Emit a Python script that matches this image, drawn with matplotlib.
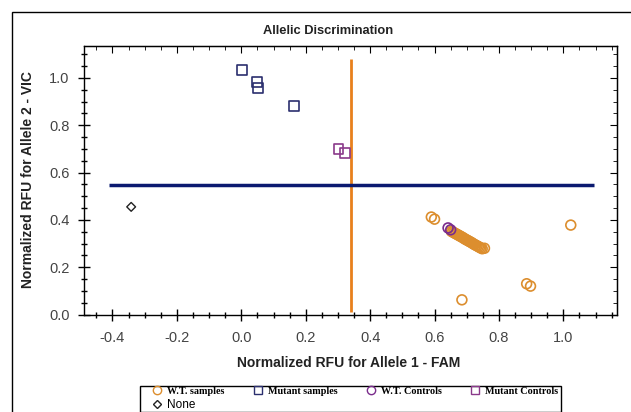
#!/usr/bin/env python3
import matplotlib
matplotlib.use('Agg')
import matplotlib.pyplot as plt
from matplotlib.lines import Line2D
from matplotlib.patches import Rectangle
from matplotlib.ticker import MultipleLocator

# W.T. samples (isolated points + the dense diagonal cluster)
wt_samples_x = [0.590, 0.600, 1.023, 0.685, 0.886, 0.898, 0.755,
                0.652, 0.656, 0.660, 0.664, 0.668, 0.672, 0.676, 0.680, 0.684,
                0.688, 0.692, 0.696, 0.700, 0.704, 0.708, 0.712, 0.716, 0.720,
                0.724, 0.728, 0.732, 0.736, 0.740, 0.744, 0.748]
wt_samples_y = [0.412, 0.403, 0.378, 0.062, 0.130, 0.120, 0.280,
                0.352, 0.349, 0.346, 0.343, 0.340, 0.337, 0.334, 0.331, 0.328,
                0.325, 0.321, 0.318, 0.315, 0.312, 0.309, 0.306, 0.303, 0.299,
                0.296, 0.293, 0.290, 0.287, 0.284, 0.281, 0.278]

mut_samples_x = [0.002, 0.048, 0.052, 0.164]
mut_samples_y = [1.033, 0.983, 0.958, 0.882]

wt_controls_x = [0.642, 0.650]
wt_controls_y = [0.366, 0.358]

mut_controls_x = [0.302, 0.323]
mut_controls_y = [0.698, 0.683]

none_x = [-0.342]
none_y = [0.455]

# call thresholds
fam_cut = 0.341
fam_cut_span = [0.01, 1.078]
vic_cut = 0.547
vic_cut_span = [-0.41, 1.095]

c_wt = '#DC8E2E'
c_mut = '#2B2F6E'
c_wtc = '#7A2C8C'
c_mutc = '#8A3A8A'
c_none = '#222222'

fig = plt.figure(figsize=(6.31, 4.12), dpi=100)

# outer frame of the exported panel
fig.patches.append(Rectangle((12 / 631, -0.05), 1.0, 1 - 12 / 412 + 0.05,
                             transform=fig.transFigure, fill=False,
                             edgecolor='black', linewidth=1.0))
# legend box
fig.patches.append(Rectangle((140 / 631, 1 - 411.5 / 412), 421 / 631, 26 / 412,
                             transform=fig.transFigure, fill=False,
                             edgecolor='black', linewidth=1.0))

ax = fig.add_axes([83.5 / 631, 1 - 314.5 / 412, 533 / 631, 268.5 / 412])
ax.set_xlim(-0.49, 1.165)
ax.set_ylim(0.0, 1.135)

ax.vlines(fam_cut, fam_cut_span[0], fam_cut_span[1], color='#E8801C', linewidth=2, zorder=2)
ax.hlines(vic_cut, vic_cut_span[0], vic_cut_span[1], color='#0B1A70', linewidth=2.5, zorder=2)

ax.scatter(wt_samples_x, wt_samples_y, s=50, marker='o', facecolors='none',
           edgecolors=c_wt, linewidths=1.2, zorder=3)
ax.scatter(mut_samples_x, mut_samples_y, s=50, marker='s', facecolors='none',
           edgecolors=c_mut, linewidths=1.2, zorder=3)
ax.scatter(wt_controls_x, wt_controls_y, s=50, marker='o', facecolors='none',
           edgecolors=c_wtc, linewidths=1.2, zorder=4)
ax.scatter(mut_controls_x, mut_controls_y, s=50, marker='s', facecolors='none',
           edgecolors=c_mutc, linewidths=1.2, zorder=4)
ax.scatter(none_x, none_y, s=20, marker='D', facecolors='none',
           edgecolors=c_none, linewidths=1.0, zorder=4)

ax.xaxis.set_minor_locator(MultipleLocator(0.05))
ax.yaxis.set_minor_locator(MultipleLocator(0.05))
ax.set_xticks([-0.4, -0.2, 0.0, 0.2, 0.4, 0.6, 0.8, 1.0])
ax.set_xticklabels(['-0.4', '-0.2', '0.0', '0.2', '0.4', '0.6', '0.8', '1.0'])
ax.set_yticks([0.0, 0.2, 0.4, 0.6, 0.8, 1.0])
ax.set_yticklabels(['0.0', '0.2', '0.4', '0.6', '0.8', '1.0'])

ax.tick_params(which='major', direction='inout', length=8, width=1, colors='black',
               labelcolor='#444444', labelsize=10.5)
ax.tick_params(which='minor', direction='inout', length=5, width=1, colors='black')
ax.tick_params(axis='x', which='major', pad=8)
ax.tick_params(axis='y', which='major', pad=6)
for lab in ax.get_xticklabels() + ax.get_yticklabels():
    lab.set_fontfamily(['Liberation Sans', 'DejaVu Sans'])
for sp in ax.spines.values():
    sp.set_linewidth(1.0)

# inward ticks on top and right
top = ax.secondary_xaxis('top')
top.xaxis.set_major_locator(MultipleLocator(0.2))
top.xaxis.set_minor_locator(MultipleLocator(0.05))
top.tick_params(which='major', direction='in', length=5, labeltop=False)
top.tick_params(which='minor', direction='in', length=3)
right = ax.secondary_yaxis('right')
right.yaxis.set_major_locator(MultipleLocator(0.2))
right.yaxis.set_minor_locator(MultipleLocator(0.05))
right.tick_params(which='major', direction='in', length=5, labelright=False)
right.tick_params(which='minor', direction='in', length=3)

sans = ['Liberation Sans', 'DejaVu Sans']
fig.text(328 / 631, 1 - 31 / 412, 'Allelic Discrimination', ha='center', va='center',
         fontsize=9.3, fontweight='bold', family=sans, color='#222222')
fig.text(349 / 631, 1 - 363 / 412, 'Normalized RFU for Allele 1 - FAM', ha='center',
         va='center', fontsize=10, fontweight='bold', family=sans, color='#222222')
fig.text(28 / 631, 1 - 180 / 412, 'Normalized RFU for Allele 2 - VIC', ha='center',
         va='center', rotation=90, fontsize=10, fontweight='bold', family=sans,
         color='#222222')

handles = [
    Line2D([], [], linestyle='none', marker='o', markersize=6, markerfacecolor='none',
           markeredgecolor=c_wt, label='W.T. samples'),
    Line2D([], [], linestyle='none', marker='D', markersize=4, markerfacecolor='none',
           markeredgecolor=c_none, label='None'),
    Line2D([], [], linestyle='none', marker='s', markersize=6, markerfacecolor='none',
           markeredgecolor=c_mut, label='Mutant samples'),
    Line2D([], [], linestyle='none', marker='o', markersize=6, markerfacecolor='none',
           markeredgecolor=c_wtc, label='W.T. Controls'),
    Line2D([], [], linestyle='none', marker='s', markersize=6, markerfacecolor='none',
           markeredgecolor=c_mutc, label='Mutant Controls'),
]
leg = fig.legend(handles=handles, ncol=4, loc='center', mode='expand',
                 bbox_to_anchor=(152 / 631, 1 - 411.5 / 412, 406 / 631, 26 / 412),
                 bbox_transform=fig.transFigure, borderaxespad=0,
                 handlelength=1.0, handletextpad=0.5, borderpad=0.0,
                 labelspacing=0.3, columnspacing=1.0, frameon=False, fontsize=7.3)
for t in leg.get_texts():
    if t.get_text() == 'None':
        t.set_fontfamily(sans)
        t.set_fontsize(8.5)
    else:
        t.set_fontfamily(['Liberation Serif', 'DejaVu Serif'])
        t.set_fontweight('bold')

fig.savefig('out.png', dpi=100)
